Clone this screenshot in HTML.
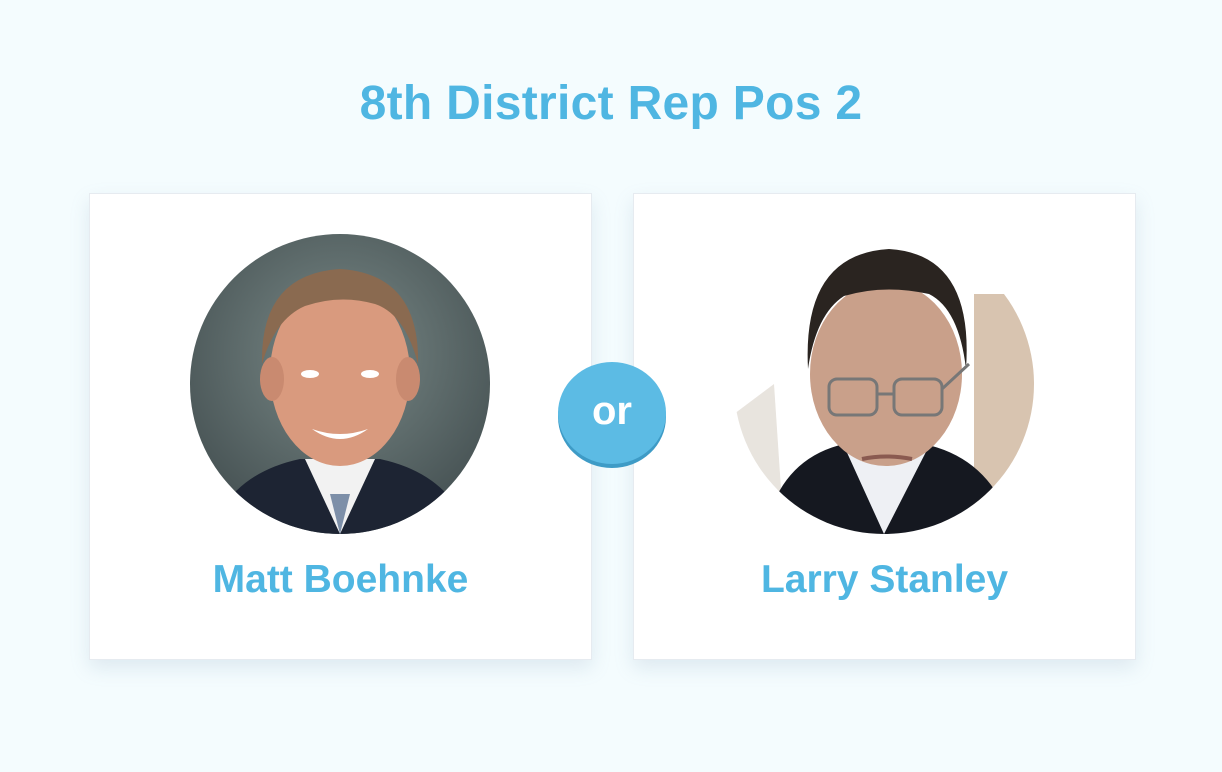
<!DOCTYPE html>
<html><head><meta charset="utf-8"><style>
html,body{margin:0;padding:0;width:1222px;height:772px;overflow:hidden;background:#f4fcfe;font-family:"Liberation Sans",sans-serif}
.title{position:absolute;left:0;width:1222px;top:76px;text-align:center;font-size:48px;font-weight:bold;color:#4fb6e2;letter-spacing:0.3px}
.card{position:absolute;top:193px;width:501px;height:465px;background:#fff;border:1px solid #e6ebf0;box-shadow:0 8px 18px rgba(120,150,180,0.18)}
.name{position:absolute;left:0;width:100%;top:364px;text-align:center;font-size:39px;font-weight:bold;color:#4fb6e2}
.photo{position:absolute;left:100px;top:40px;width:300px;height:300px}
.or{position:absolute;left:558px;top:362px;width:108px;height:102px;border-radius:50%;background:#5cbbe4;box-shadow:0 4px 0 #3e9bc6;color:#fff;font-size:40px;font-weight:bold;text-align:center;line-height:98px}
</style></head><body>
<div class="title">8th District Rep Pos 2</div>

<div class="card" style="left:89px">
<svg class="photo" viewBox="0 0 300 300">
<defs><clipPath id="c1"><circle cx="150" cy="150" r="150"/></clipPath>
<radialGradient id="bg1" cx="0.5" cy="0.4" r="0.7"><stop offset="0" stop-color="#7a8a88"/><stop offset="1" stop-color="#3f4a4c"/></radialGradient></defs>
<g clip-path="url(#c1)">
<rect width="300" height="300" fill="url(#bg1)"/>
<path d="M20 300 Q40 240 110 225 L190 225 Q260 240 280 300Z" fill="#1d2433"/>
<path d="M115 225 L150 300 L185 225Z" fill="#f2f2f2"/>
<path d="M140 260 L150 300 L160 260Z" fill="#7d8fa8"/>
<ellipse cx="150" cy="140" rx="70" ry="92" fill="#d99a7e"/>
<ellipse cx="82" cy="145" rx="12" ry="22" fill="#c98a70"/>
<ellipse cx="218" cy="145" rx="12" ry="22" fill="#c98a70"/>
<path d="M72 130 Q70 40 150 35 Q230 40 228 130 Q215 80 185 70 Q150 60 115 72 Q85 85 72 130Z" fill="#8a6a50"/>
<ellipse cx="120" cy="140" rx="9" ry="4" fill="#fff"/><ellipse cx="180" cy="140" rx="9" ry="4" fill="#fff"/>
<path d="M122 195 Q150 215 178 195 Q150 205 122 195Z" fill="#fff"/>
</g></svg>
<div class="name">Matt Boehnke</div>
</div>

<div class="card" style="left:633px">
<svg class="photo" viewBox="0 0 300 300">
<defs><clipPath id="c2"><circle cx="150" cy="150" r="150"/></clipPath></defs>
<g clip-path="url(#c2)">
<rect width="300" height="300" fill="#ffffff"/>
<rect x="240" y="60" width="60" height="240" fill="#d8c4b0"/>
<path d="M0 300 L0 180 L40 150 L50 300Z" fill="#e8e4de"/>
<path d="M30 300 Q45 225 110 210 L190 210 Q260 225 280 300Z" fill="#151820"/>
<path d="M110 212 L150 300 L195 212Z" fill="#eef0f4"/>
<ellipse cx="152" cy="140" rx="76" ry="92" fill="#c9a08a"/>
<path d="M74 135 Q68 20 155 15 Q240 20 232 135 Q225 75 195 60 Q150 50 110 62 Q82 80 74 135Z" fill="#2a2420"/>
<rect x="95" y="145" width="48" height="36" rx="8" fill="none" stroke="#777" stroke-width="3"/>
<rect x="160" y="145" width="48" height="36" rx="8" fill="none" stroke="#777" stroke-width="3"/>
<path d="M143 160 L160 160 M208 155 L235 130" stroke="#777" stroke-width="3"/>
<path d="M128 225 Q152 220 178 225" stroke="#8a5a50" stroke-width="4" fill="none"/>
</g></svg>
<div class="name">Larry Stanley</div>
</div>

<div class="or">or</div>
</body></html>
